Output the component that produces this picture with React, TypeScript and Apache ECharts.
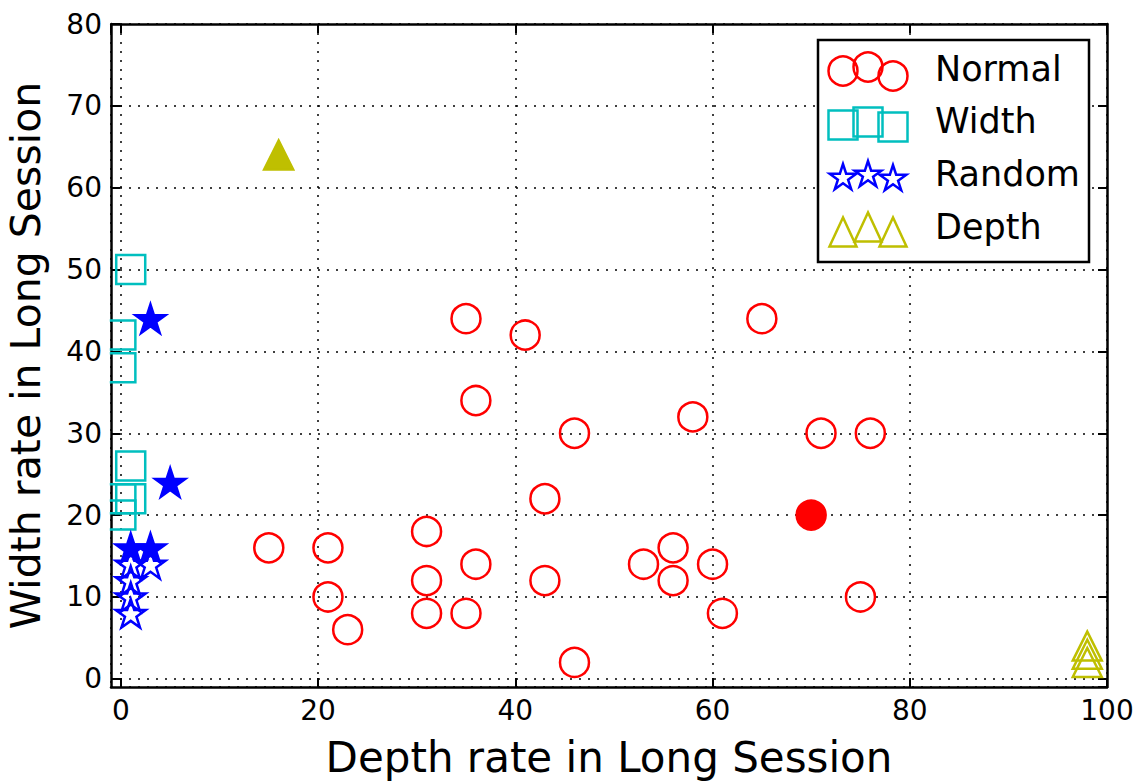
import React, { useEffect, useRef } from "react";
import * as echarts from "echarts";

const normalPoints = [
  [35, 44], [41, 42], [65, 44], [36, 34], [46, 30], [58, 32], [71, 30], [76, 30],
  [43, 22], [31, 18], [15, 16], [21, 16], [56, 16], [53, 14], [60, 14], [36, 14],
  [31, 12], [43, 12], [56, 12], [21, 10], [75, 10], [31, 8], [35, 8], [61, 8],
  [23, 6], [46, 2],
];
const normalFilled = [[70, 20]];
const widthPoints = [[1, 50], [0, 42], [0, 38], [1, 26], [1, 22], [0, 22], [0, 20]];
const randomPoints = [[1, 14], [3, 14], [1, 12], [1, 10], [1, 8]];
const randomFilled = [[3, 44], [5, 24], [1, 16], [3, 16]];
const depthPoints = [[98, 4], [98, 3], [98, 2]];
const depthFilled = [[16, 64]];

const legendNames = ["Normal", "Width", "Random", "Depth"];
const xTitle = "Depth rate in Long Session";
const yTitle = "Width rate in Long Session";

const RED = "#ff0000";
const CYAN = "#00bfbf";
const BLUE = "#0000ff";
const OLIVE = "#bfbf00";
const FONT = "DejaVu Sans";

const STAR =
  "path://M100,0 L122.45,69.1 L195.11,69.1 L136.33,111.8 L158.78,180.9 L100,138.2 L41.22,180.9 L63.67,111.8 L4.89,69.1 L77.55,69.1 Z";

function starPoints(cx: number, cy: number, r: number) {
  const pts: number[][] = [];
  for (let i = 0; i < 10; i++) {
    const a = Math.PI / 2 + (i * Math.PI) / 5;
    const rr = i % 2 === 0 ? r : r * 0.381966;
    pts.push([cx + rr * Math.cos(a), cy - rr * Math.sin(a)]);
  }
  return pts;
}

function makeData(hollow: number[][], filled: number[][], color: string) {
  return [
    ...hollow.map((p) => ({ value: p })),
    ...filled.map((p) => ({ value: p, itemStyle: { color } })),
  ];
}

export default function App() {
  const ref = useRef<HTMLDivElement>(null);
  useEffect(() => {
    if (!ref.current) return;
    const chart = echarts.init(ref.current, undefined, { renderer: "svg" });

    const lw = 2.5;
    const hollowStyle = (c: string) => ({
      color: "rgba(0,0,0,0)",
      borderColor: c,
      borderWidth: lw,
      opacity: 1,
    });

    const commonAxis = {
      type: "value" as const,
      axisLine: { show: true, onZero: false, lineStyle: { color: "#000", width: 2.5 } },
      axisTick: { show: true, inside: true, length: 9, lineStyle: { color: "#000", width: 2 } },
    };

    // mask: clip markers overflowing the left frame
    const maskEls: any[] = [
      {
        type: "rect",
        shape: { x: 103, y: 24, width: 6.8, height: 663 },
        style: { fill: "#fff" },
        z: 50,
      },
    ];

    // legend graphic
    const lx = [843, 868, 893];
    const rows = [71, 123, 176, 229];
    const dy = [[0, -4, 5], [2, -1, 4], [2, -1, 3], [3, -2, 3]];
    const legendEls: any[] = [
      {
        type: "rect",
        shape: { x: 818, y: 40, width: 271, height: 222 },
        style: { fill: "#fff", stroke: "#000", lineWidth: 2.5 },
        z: 100,
      },
    ];
    lx.forEach((x, i) => {
      legendEls.push({
        type: "circle",
        shape: { cx: x, cy: rows[0] + dy[0][i], r: 14.5 },
        style: { fill: "none", stroke: RED, lineWidth: lw },
        z: 101,
      });
      legendEls.push({
        type: "rect",
        shape: { x: x - 14.5, y: rows[1] + dy[1][i] - 14.5, width: 29, height: 29 },
        style: { fill: "none", stroke: CYAN, lineWidth: lw },
        z: 101,
      });
      legendEls.push({
        type: "polygon",
        shape: { points: starPoints(x, rows[2] + dy[2][i], 14) },
        style: { fill: "none", stroke: BLUE, lineWidth: lw },
        z: 101,
      });
      const ty = rows[3] + dy[3][i];
      legendEls.push({
        type: "polygon",
        shape: { points: [[x, ty - 14.5], [x - 13.5, ty + 14.5], [x + 13.5, ty + 14.5]] },
        style: { fill: "none", stroke: OLIVE, lineWidth: lw },
        z: 101,
      });
    });
    legendNames.forEach((n, i) => {
      legendEls.push({
        type: "text",
        x: 935,
        y: rows[i] - 2,
        style: {
          text: n,
          font: `35px "${FONT}"`,
          fill: "#000",
          textAlign: "left",
          textVerticalAlign: "middle",
        },
        z: 102,
      });
    });

    const tickLabel = {
      show: true,
      showMinLabel: false,
      margin: 9,
      fontFamily: FONT,
      fontSize: 28,
      color: "#000",
    };
    const grid = {
      show: true,
      lineStyle: { color: "#000", width: 1.5, type: [2, 7] },
    };

    chart.setOption({
      animation: false,
      grid: {
        left: 111,
        right: 40,
        top: 24,
        bottom: 95,
        containLabel: false,
        outerBoundsMode: "none",
      },
      xAxis: [
        {
          ...commonAxis,
          position: "bottom",
          min: -1,
          max: 100,
          splitNumber: 5,
          name: xTitle,
          nameLocation: "middle",
          nameGap: 49,
          nameTextStyle: { fontFamily: FONT, fontSize: 42, color: "#000" },
          axisLabel: tickLabel,
          splitLine: grid,
        },
        {
          ...commonAxis,
          position: "top",
          min: -1,
          max: 100,
          splitNumber: 5,
          axisLabel: { show: false },
          splitLine: { show: false },
        },
      ],
      yAxis: [
        {
          ...commonAxis,
          position: "left",
          min: -1,
          max: 80,
          splitNumber: 8,
          name: yTitle,
          nameLocation: "middle",
          nameGap: 65,
          nameTextStyle: { fontFamily: FONT, fontSize: 41, color: "#000" },
          axisLabel: tickLabel,
          splitLine: grid,
        },
        {
          ...commonAxis,
          position: "right",
          min: -1,
          max: 80,
          splitNumber: 8,
          axisLabel: { show: false },
          splitLine: { show: false },
        },
      ],
      series: [
        {
          name: legendNames[0],
          type: "scatter",
          symbol: "circle",
          symbolSize: 29,
          itemStyle: hollowStyle(RED),
          data: makeData(normalPoints, normalFilled, RED),
          z: 3,
        },
        {
          name: legendNames[1],
          type: "scatter",
          symbol: "rect",
          symbolSize: 29,
          itemStyle: hollowStyle(CYAN),
          data: makeData(widthPoints, [], CYAN),
          z: 3,
        },
        {
          name: legendNames[2],
          type: "scatter",
          symbol: STAR,
          symbolKeepAspect: true,
          symbolSize: 30,
          itemStyle: hollowStyle(BLUE),
          data: makeData(randomPoints, randomFilled, BLUE),
          z: 3,
        },
        {
          name: legendNames[3],
          type: "scatter",
          symbol: "triangle",
          symbolSize: 29,
          itemStyle: hollowStyle(OLIVE),
          data: makeData(depthPoints, depthFilled, OLIVE),
          z: 3,
        },
      ],
      graphic: [...maskEls, ...legendEls],
    });

    return () => chart.dispose();
  }, []);

  return (
    <div
      ref={ref}
      style={{ position: "fixed", left: 0, top: 0, width: 1147, height: 782, background: "#fff" }}
    />
  );
}
